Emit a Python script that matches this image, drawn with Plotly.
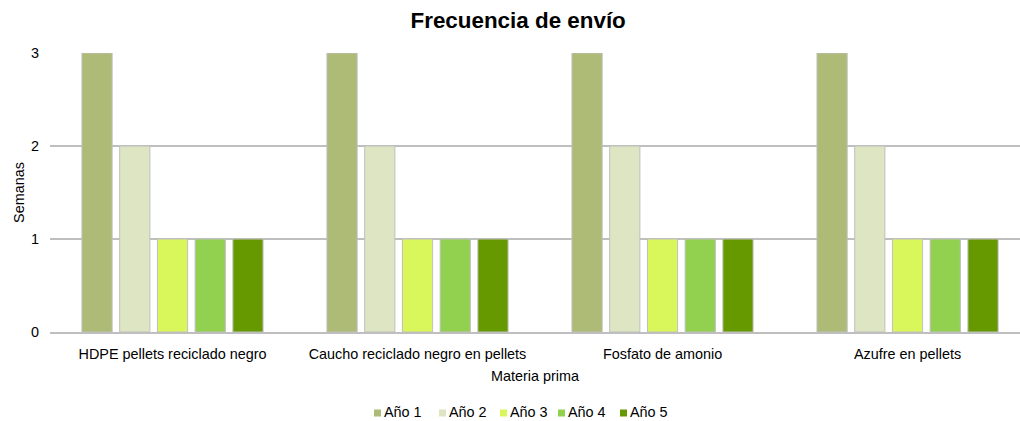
import plotly.graph_objects as go

materias = ["HDPE pellets reciclado negro", "Caucho reciclado negro en pellets",
            "Fosfato de amonio", "Azufre en pellets"]
series = ["Año 1", "Año 2", "Año 3", "Año 4", "Año 5"]
semanas = {
    "Año 1": [3, 3, 3, 3],
    "Año 2": [2, 2, 2, 2],
    "Año 3": [1, 1, 1, 1],
    "Año 4": [1, 1, 1, 1],
    "Año 5": [1, 1, 1, 1],
}
colores = ["#ADBB76", "#DDE5C2", "#D9F75A", "#92D050", "#669900"]

W, H = 1020, 421
M_L, M_R, M_T, M_B = 50, 0, 53, 89
plot_w = W - M_L - M_R
plot_h = H - M_T - M_B

fig = go.Figure()
for nombre, color in zip(series, colores):
    fig.add_trace(go.Bar(
        name=nombre, x=materias, y=semanas[nombre], showlegend=False,
        marker=dict(color=color, line=dict(color="#BFBFBF", width=1)),
    ))

font_fam = "Liberation Sans, Arial, sans-serif"

# Compact legend row under the x-axis title: small square swatch + label
legend_left_px = [374, 439, 500, 558, 620]
legend_mid_px = 413
sw = 7
for nombre, color, lx in zip(series, colores, legend_left_px):
    x0 = (lx - M_L) / plot_w
    x1 = (lx + sw - M_L) / plot_w
    y0 = (H - M_B - (legend_mid_px + sw / 2)) / plot_h
    y1 = (H - M_B - (legend_mid_px - sw / 2)) / plot_h
    fig.add_shape(type="rect", xref="paper", yref="paper",
                  x0=x0, x1=x1, y0=y0, y1=y1,
                  fillcolor=color, line=dict(width=0))
    fig.add_annotation(text=nombre, xref="paper", yref="paper",
                       x=(lx + sw + 0.5 - M_L) / plot_w,
                       y=(H - M_B - (legend_mid_px - 1)) / plot_h,
                       xanchor="left", yanchor="middle", showarrow=False,
                       font=dict(size=14.4, family=font_fam, color="#000000"))

fig.update_layout(
    width=W, height=H,
    margin=dict(l=M_L, r=M_R, t=M_T, b=M_B),
    paper_bgcolor="white", plot_bgcolor="white",
    barmode="group", bargap=0.23, bargroupgap=0.2,
    showlegend=False,
    font=dict(family=font_fam, size=14.4, color="#000000"),
    title=dict(text="<b>Frecuencia de envío</b>", x=0.508, xanchor="center",
               y=0.953, yanchor="middle", font=dict(size=22.4, family=font_fam)),
    xaxis=dict(title=dict(text="Materia prima", font=dict(size=14.4), standoff=10),
               range=[-0.5, 3.459], automargin=False,
               showline=True, linecolor="#BFBFBF", linewidth=1.5,
               ticks="", ticklabelstandoff=8, tickfont=dict(size=14.4)),
    yaxis=dict(title=dict(text="Semanas", font=dict(size=14.4), standoff=2),
               range=[0, 3], dtick=1, showgrid=True, gridcolor="#BFBFBF",
               gridwidth=1.5, zeroline=False, ticks="", automargin=False,
               ticklabelstandoff=10, tickfont=dict(size=14.4)),
)
fig.write_html("out.html")
